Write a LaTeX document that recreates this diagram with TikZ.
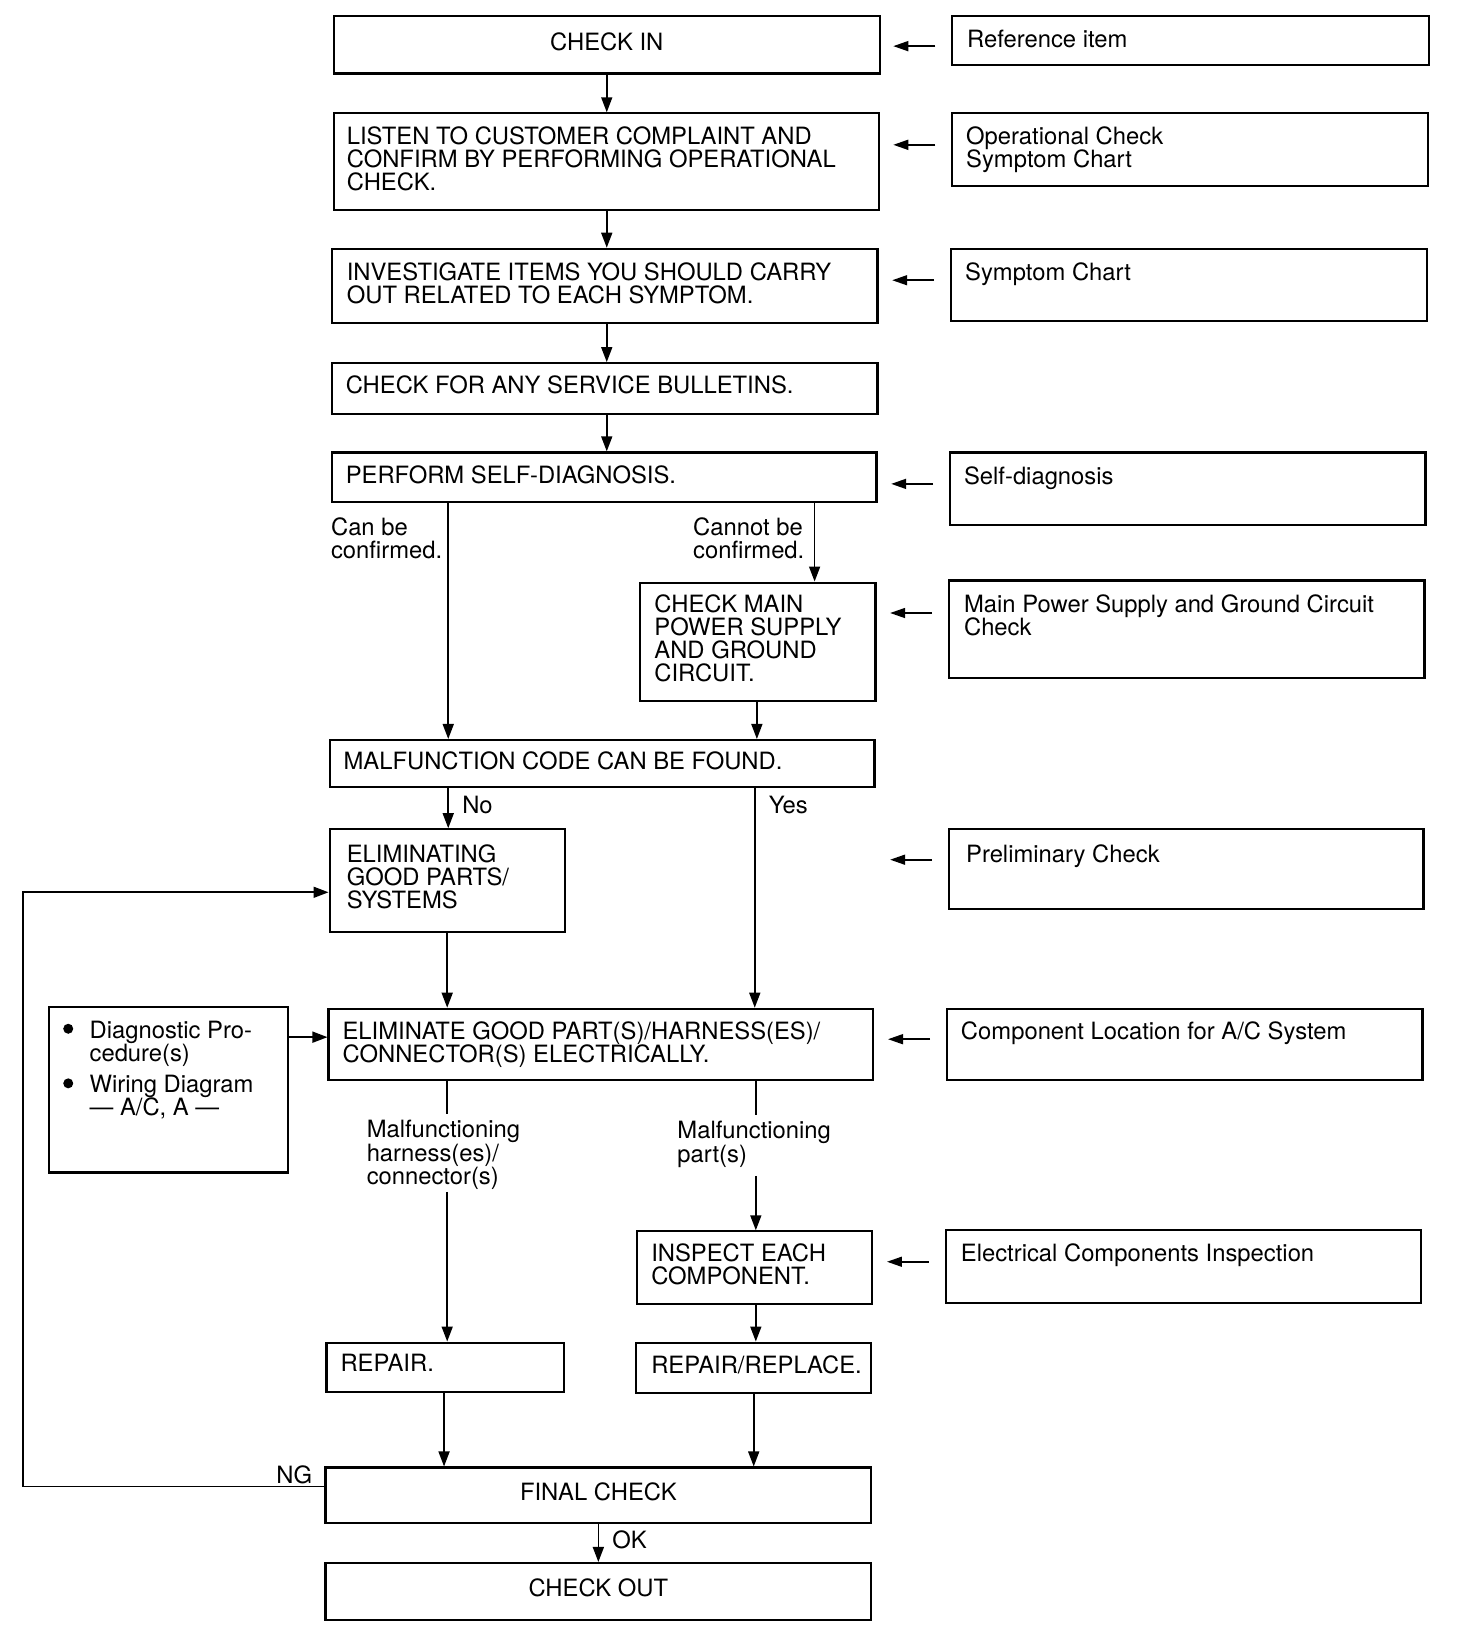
\documentclass[tikz,border=0pt]{standalone}
\usepackage{fontspec}
\setmainfont{TeX Gyre Heros}
\usetikzlibrary{arrows.meta,fit,calc}
\begin{document}
\begin{tikzpicture}[x=0.52485pt, y=-0.52485pt,
  box/.style={draw, line width=1.1pt, inner sep=0pt},
  txt/.style={font=\fontsize{11.9}{11.6}\selectfont, align=left, inner sep=0pt, anchor=north west},
  ctxt/.style={font=\fontsize{11.9}{11.6}\selectfont, inner sep=0pt},
  arr/.style={line width=0.8pt, -{Triangle[length=7.5pt,width=5.5pt]}},
  lnk/.style={line width=0.8pt},
  refarr/.style={line width=0.8pt, -{Triangle[length=7.5pt,width=5pt]}},
]
\useasboundingbox (0,0) rectangle (1387,1568);

% ---- main boxes
\node[box, fit={(318,15)(838,70)}] (b1) {};
\node[box, fit={(318,108)(837,200)}] (b2) {};
\node[box, fit={(316,237)(836,308)}] (b3) {};
\node[box, fit={(316,346)(836,394)}] (b4) {};
\node[box, fit={(316,431)(835,478)}] (b5) {};
\node[box, fit={(610,555)(834,668)}] (b6) {};
\node[box, fit={(314,705)(833,750)}] (b7) {};
\node[box, fit={(314,790)(538,888)}] (b8) {};
\node[box, fit={(313,961)(832,1029)}] (b9) {};
\node[box, fit={(47,959)(274,1117)}] (d) {};
\node[box, fit={(607,1173)(831,1242)}] (b11) {};
\node[box, fit={(311,1279)(537,1326)}] (b12) {};
\node[box, fit={(606,1279)(830,1327)}] (b13) {};
\node[box, fit={(310,1398)(830,1451)}] (b14) {};
\node[box, fit={(310,1489)(830,1543)}] (b15) {};

% ---- reference boxes
\node[box, fit={(907,15)(1361,62)}] (r1) {};
\node[box, fit={(907,108)(1360,177)}] (r2) {};
\node[box, fit={(906,237)(1359,306)}] (r3) {};
\node[box, fit={(905,431)(1358,500)}] (r4) {};
\node[box, fit={(904,553)(1357,646)}] (r5) {};
\node[box, fit={(904,790)(1356,866)}] (r6) {};
\node[box, fit={(902,961)(1355,1029)}] (r7) {};
\node[box, fit={(901,1172)(1354,1241)}] (r8) {};

% ---- texts in main boxes
\node[ctxt] (t1) at ($(b1.center)+(0,-3)$) {CHECK IN};
\node[txt] (t2) at (330,120) {LISTEN TO CUSTOMER COMPLAINT AND\\CONFIRM BY PERFORMING OPERATIONAL\\CHECK.};
\node[txt] (t3) at (330,250) {INVESTIGATE ITEMS YOU SHOULD CARRY\\OUT RELATED TO EACH SYMPTOM.};
\node[txt] (t4) at (329,358) {CHECK FOR ANY SERVICE BULLETINS.};
\node[txt] (t5) at (329,443) {PERFORM SELF-DIAGNOSIS.};
\node[txt] (t6) at (623,566) {CHECK MAIN\\POWER SUPPLY\\AND GROUND\\CIRCUIT.};
\node[txt] (t7) at (327,716) {MALFUNCTION CODE CAN BE FOUND.};
\node[txt] (t8) at (330,804) {ELIMINATING\\GOOD PARTS/\\SYSTEMS};
\node[txt] (t9) at (326,973) {ELIMINATE GOOD PART(S)/HARNESS(ES)/\\CONNECTOR(S) ELECTRICALLY.};
\node[txt] (td1) at (85,972) {Diagnostic Pro-\\cedure(s)};
\node[txt] (td2) at (85,1024) {Wiring Diagram\\— A/C, A —};
\fill (65,980) circle (2.5pt);
\fill (65,1032) circle (2.5pt);
\node[txt] (t11) at (620,1184) {INSPECT EACH\\COMPONENT.};
\node[txt] (t12) at (324,1290) {REPAIR.};
\node[txt] (t13) at (620,1291) {REPAIR/REPLACE.};
\node[ctxt] (t14) at ($(b14.center)+(0,-3)$) {FINAL CHECK};
\node[ctxt] (t15) at ($(b15.center)+(0,-3)$) {CHECK OUT};

% ---- texts in reference boxes
\node[txt] (s1) at (921,28) {Reference item};
\node[txt] (s2) at (920,120) {Operational Check\\Symptom Chart};
\node[txt] (s3) at (919,250) {Symptom Chart};
\node[txt] (s4) at (918,444) {Self-diagnosis};
\node[txt] (s5) at (918,566) {Main Power Supply and Ground Circuit\\Check};
\node[txt] (s6) at (920,804) {Preliminary Check};
\node[txt] (s7) at (915,973) {Component Location for A/C System};
\node[txt] (s8) at (915,1184) {Electrical Components Inspection};

% ---- connector labels
\node[txt] (lc) at (315,493) {Can be\\confirmed.};
\node[txt] (lnc) at (660,493) {Cannot be\\confirmed.};
\node[txt] (lno) at (440,758) {No};
\node[txt] (lyes) at (732,758) {Yes};
\node[txt] (lh) at (349,1067) {Malfunctioning\\harness(es)/\\connector(s)};
\node[txt] (lp) at (645,1068) {Malfunctioning\\part(s)};
\node[txt] (lng) at (263,1396) {NG};
\node[txt] (lok) at (583,1458) {OK};

% ---- guide coordinates
\coordinate (v578) at (578,0);
\coordinate (v427) at (427,0);
\coordinate (v776) at (776,0);
\coordinate (v721) at (721,0);
\coordinate (v719) at (719,0);
\coordinate (v426) at (426,0);
\coordinate (v720) at (720,0);
\coordinate (v423) at (423,0);
\coordinate (v718) at (718,0);
\coordinate (v570) at (570,0);
\coordinate (h988) at (0,988);
\coordinate (h1416) at (0,1416);
\coordinate (ngc) at (22,850);

% ---- flow connectors
\draw[arr] (b1.south -| v578) -- (b2.north -| v578);
\draw[arr] (b2.south -| v578) -- (b3.north -| v578);
\draw[arr] (b3.south -| v578) -- (b4.north -| v578);
\draw[arr] (b4.south -| v578) -- (b5.north -| v578);
\draw[arr] (b5.south -| v427) -- (b7.north -| v427);
\draw[arr] (b5.south -| v776) -- (b6.north -| v776);
\draw[arr] (b6.south -| v721) -- (b7.north -| v721);
\draw[arr] (b7.south -| v427) -- (b8.north -| v427);
\draw[arr] (b7.south -| v719) -- (b9.north -| v719);
\draw[arr] (b8.south -| v426) -- (b9.north -| v426);
\draw[arr] (d.east |- h988) -- (b9.west |- h988);
\draw[lnk, shorten >=3pt] (b9.south -| v426) -- (lh.north -| v426);
\draw[arr, shorten <=1pt] (lh.south -| v426) -- (b12.north -| v426);
\draw[lnk, shorten >=3pt] (b9.south -| v720) -- (lp.north -| v720);
\draw[arr, shorten <=4pt] (lp.south -| v720) -- (b11.north -| v720);
\draw[arr] (b11.south -| v720) -- (b13.north -| v720);
\draw[arr] (b12.south -| v423) -- (b14.north -| v423);
\draw[arr] (b13.south -| v718) -- (b14.north -| v718);
\draw[arr] (b14.south -| v570) -- (b15.north -| v570);
\draw[arr] (b14.west |- h1416) -| (ngc) -- (b8.west |- ngc);

% ---- reference arrows
\draw[refarr] ($(r1.north west)+(-15,30)$) -- ++(-40,0);
\draw[refarr] ($(r2.north west)+(-15,31)$) -- ++(-40,0);
\draw[refarr] ($(r3.north west)+(-15,31)$) -- ++(-40,0);
\draw[refarr] ($(r4.north west)+(-15,31)$) -- ++(-40,0);
\draw[refarr] ($(r5.north west)+(-15,32)$) -- ++(-40,0);
\draw[refarr] ($(r6.north west)+(-15,30)$) -- ++(-40,0);
\draw[refarr] ($(r7.north west)+(-15,30)$) -- ++(-40,0);
\draw[refarr] ($(r8.north west)+(-15,31)$) -- ++(-40,0);
\end{tikzpicture}
\end{document}
